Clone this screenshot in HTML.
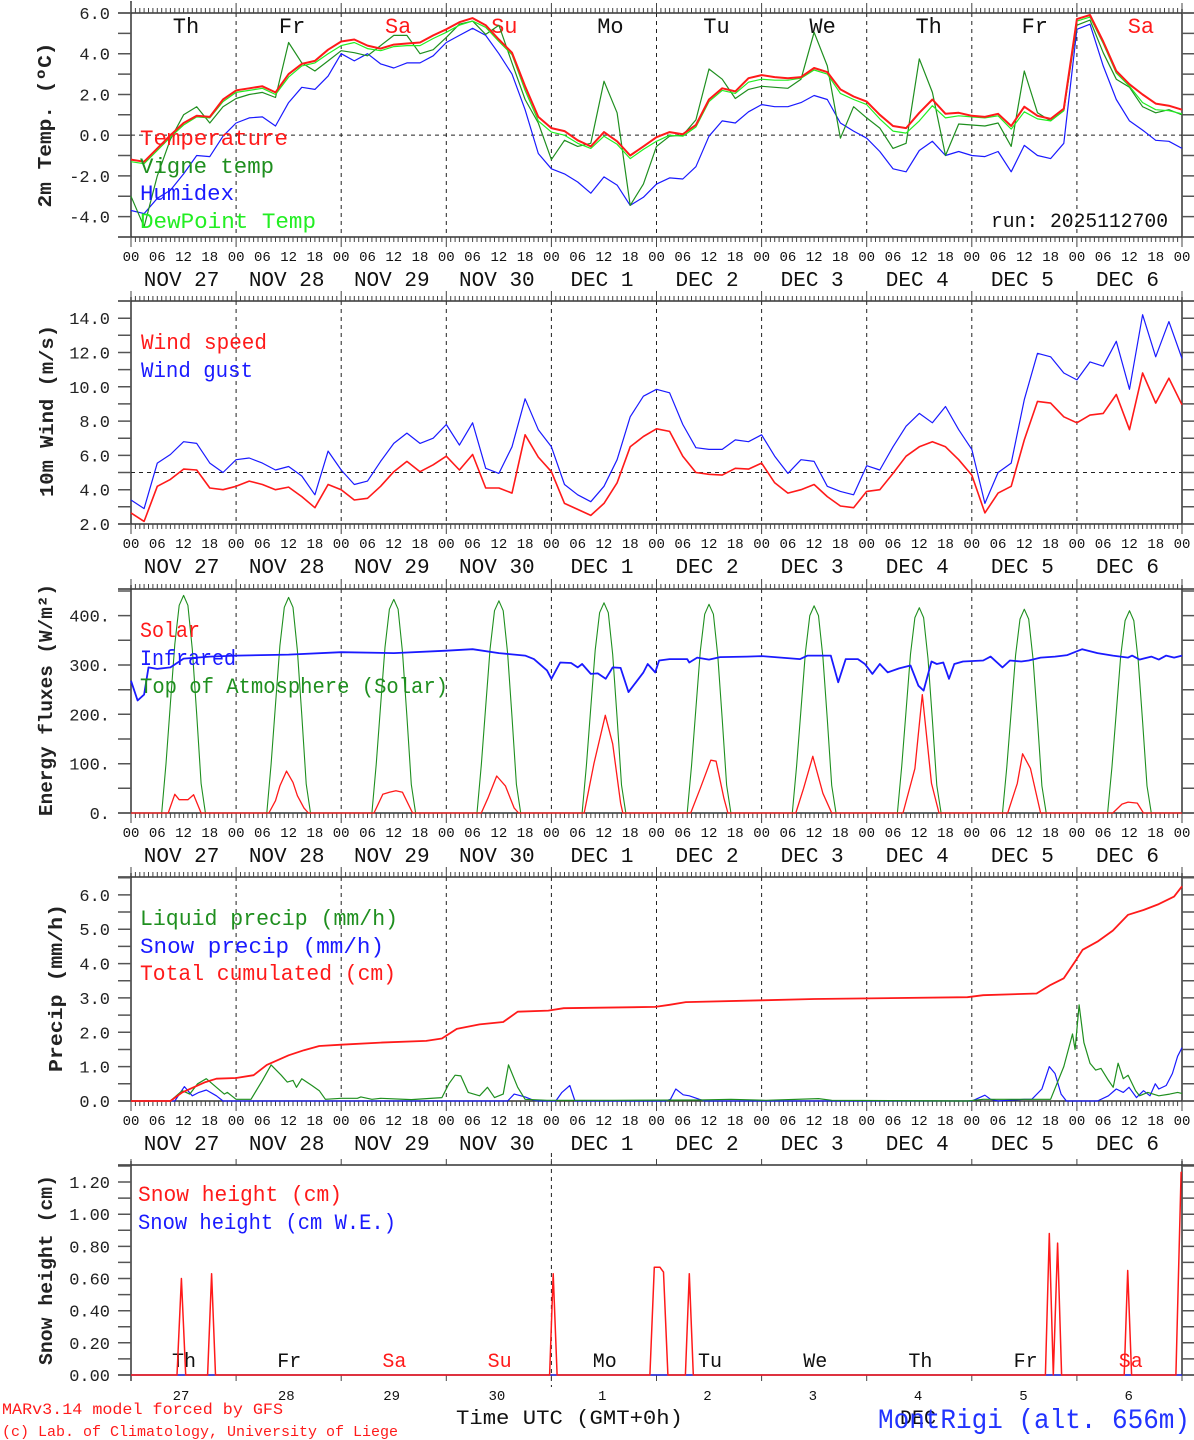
<!DOCTYPE html>
<html><head><meta charset="utf-8"><style>
html,body{margin:0;padding:0;background:#fff;}
svg{display:block;font-family:"Liberation Mono","DejaVu Sans Mono",monospace;}
</style></head><body>
<svg id="chart" width="1194" height="1440" viewBox="0 0 1194 1440" xmlns="http://www.w3.org/2000/svg">
<rect x="0" y="0" width="1194" height="1440" fill="#fff"/>
</svg>
<script>
// ---------- DATA (hours since NOV 27 00 UTC) ----------
const dayNames = ["Th","Fr","Sa","Su","Mo","Tu","We","Th","Fr","Sa"];
const dayRed = [false,false,true,true,false,false,false,false,false,true];
const dateLabels = ["NOV 27","NOV 28","NOV 29","NOV 30","DEC  1","DEC  2","DEC  3","DEC  4","DEC  5","DEC  6"];
const dayNumbers = ["27","28","29","30","1","2","3","4","5","6"];
const hourLabels = ["00","06","12","18"];

// Panel 1: temperatures, 3-hourly
const tempValues = [-1.2,-1.3,-0.65,0,0.6,0.95,0.9,1.75,2.2, 2.3,2.4,2.1,3.0,3.5,3.65,4.2,4.6, 4.7,4.4,4.25,4.45,4.5,4.55,4.9,5.2, 5.55,5.75,5.4,4.7,4.05,2.4,0.9,0.35, 0.2,-0.25,-0.55,0.15,-0.3,-1.0,-0.55,-0.1, 0.15,0.05,0.5,1.75,2.3,2.15,2.8,2.95, 2.85,2.8,2.85,3.3,3.1,2.25,1.9,1.65, 1.0,0.45,0.35,1.1,1.75,1.05,1.1,0.95, 0.9,1.05,0.45,1.4,0.95,0.8,1.3,5.7, 5.9,4.6,3.15,2.5,2.0,1.55,1.45,1.25];
const vigneValues = [-3.0,-4.5,-2.0,-0.2,1.0,1.4,0.6,1.4,1.8, 2.0,2.1,1.85,4.55,3.55,3.15,3.65,4.15, 4.05,3.9,4.4,4.9,4.9,4.0,4.2,4.8, 5.45,5.6,4.95,5.4,3.55,1.75,0.6,-1.2, -0.25,-0.55,-0.4,2.65,1.1,-3.45,-2.4,-0.55, -0.05,0,0.75,3.25,2.75,1.8,2.25,2.4, 2.35,2.3,2.75,5.05,3.4,-0.15,1.4,0.85, 0.35,-0.65,-0.4,3.75,2.1,-1.0,0.55,0.5, 0.45,0.6,-0.55,3.15,1.1,0.7,1.2,5.4, 5.65,4.05,2.75,2.35,1.4,1.1,1.25,1.0];
const humidexValues = [-3.7,-3.85,-3.1,-2.7,-1.9,-1.0,-1.05,-0.05,0.6, 0.85,0.9,0.45,1.6,2.35,2.25,2.9,4.0, 3.65,4.0,3.5,3.3,3.55,3.55,3.9,4.55, 4.9,5.25,4.9,4.0,3.0,1.25,-0.9,-1.65, -1.9,-2.3,-2.85,-2.05,-2.45,-3.45,-3.05,-2.4, -2.1,-2.15,-1.55,-0.05,0.7,0.6,1.15,1.5, 1.4,1.4,1.6,1.95,1.75,0.6,0.2,-0.15, -0.8,-1.65,-1.8,-0.75,-0.3,-1.0,-0.8,-1.0, -1.05,-0.8,-1.8,-0.5,-1.0,-1.15,-0.4,5.2, 5.45,3.4,1.75,0.7,0.25,-0.25,-0.3,-0.65];
const dewValues = [-1.3,-1.4,-0.75,-0.1,0.5,0.9,0.85,1.65,2.1, 2.2,2.3,2.0,2.85,3.4,3.55,4.0,4.4, 4.55,4.25,4.15,4.35,4.4,4.4,4.75,5.05, 5.4,5.6,5.3,4.6,3.95,2.2,0.7,0.15, 0,-0.4,-0.65,-0.05,-0.45,-1.15,-0.7,-0.3, 0,-0.05,0.4,1.65,2.2,2.05,2.6,2.75, 2.7,2.7,2.8,3.2,3.0,2.05,1.75,1.5, 0.8,0.2,0.1,0.7,1.45,0.85,0.95,0.9, 0.85,0.95,0.3,1.15,0.8,0.7,1.2,5.6, 5.8,4.5,3.05,2.4,1.6,1.25,1.2,1.05];

// Panel 2: wind, 3-hourly
const windSpeed = [2.65,2.15,4.2,4.6,5.2,5.15,4.1,4.0,4.2, 4.5,4.3,4.0,4.15,3.6,2.95,4.3,4.0, 3.4,3.5,4.2,5.05,5.65,5.05,5.45,5.95, 5.15,6.05,4.1,4.1,3.8,7.2,5.9,5.05, 3.2,2.85,2.5,3.2,4.4,6.5,7.1,7.55, 7.4,5.95,5.0,4.9,4.85,5.25,5.2,5.55, 4.4,3.8,4.0,4.3,3.6,3.05,2.95,3.9, 4.0,4.95,5.95,6.5,6.8,6.5,5.75,4.85, 2.65,3.8,4.2,6.9,9.15,9.05,8.25,7.9, 8.35,8.45,9.55,7.5,10.8,9.05,10.5,8.95];
const windGust = [3.4,2.9,5.55,6.05,6.8,6.7,5.55,5.0,5.75, 5.85,5.55,5.15,5.35,4.8,3.7,6.25,5.15, 4.3,4.5,5.65,6.7,7.3,6.7,7.0,7.8, 6.6,7.9,5.25,4.95,6.5,9.3,7.5,6.5, 4.3,3.7,3.3,4.2,5.75,8.25,9.45,9.85, 9.65,7.8,6.45,6.35,6.35,6.9,6.8,7.2, 5.95,4.95,5.75,5.65,4.2,3.9,3.7,5.4, 5.15,6.5,7.7,8.45,7.9,8.85,7.5,6.35, 3.2,5.0,5.55,9.25,11.95,11.75,10.8,10.4, 11.45,11.2,12.65,9.85,14.2,11.75,13.8,11.65];

// Panel 3: energy fluxes
const toaDayValues = [
 [0,100,222,342,421,441,421,332,200,60,0],
 [0,99,220,339,417,437,417,329,198,59,0],
 [0,98,218,336,413,433,413,326,196,58,0],
 [0,97,216,333,410,430,410,324,195,58,0],
 [0,96,214,330,406,426,406,321,193,57,0],
 [0,95,212,328,403,423,403,318,191,57,0],
 [0,95,210,325,400,420,400,316,190,56,0],
 [0,94,208,322,396,416,396,313,188,56,0],
 [0,93,206,320,393,413,393,311,187,55,0],
 [0,92,205,318,390,410,390,309,185,55,0]];
const toaStartHour = [7,31,55,79,103,127,151,175,199,223];
const solarHours = [0,8.5,10,11,13,14.3,16, 31.5,33,34,35.5,37,38,39.5,40.5, 55.5,57.5,59,60.5,62,64.3, 80,81.5,83.5,85.5,87.5,88.5, 103.5,105.7,108.3,110,111.8,112.3, 127.8,130,132.4,133.6,135.4,136.3, 151.8,153.6,155.7,158,160, 176.3,179,180.7,182.8,184.5, 200.2,202.4,203.6,205.4,207.7, 224.2,226.3,227.7,229.8,231.2,240];
const solarValues = [0,0,38,27,27,37,0, 0,25,55,85,62,35,10,0, 0,38,42,45,42,0, 0,30,75,55,10,0, 0,100,198,140,20,0, 0,50,107,105,30,0, 0,50,115,40,0, 0,90,240,60,0, 0,60,120,90,0, 0,18,22,20,0,0];
const irHours = [0,1.5,3,4,6,9,12,18,24,36,48,60,72,78,84,90,92,95,96,98,100.5,102,103,105,106.6,108.4,110,111.8,113.6,115.3,117,118,119.7,120.6,123,127,127.5,129.3,132,134.5,140.6,144,152.8,154.5,159.8,161.5,163.2,166,167.6,169.3,171,172.8,175.4,178,179.8,181,182.8,184,185.5,186.8,188,190,194.6,196.3,199,200.7,203.3,205,207.7,211,213.8,217.2,220.7,224.2,227.7,228.6,230.3,233,234.7,236.4,238.2,240];
const irValues = [268,228,240,295,292,295,313,317,319,321,326,324,329,332,324,319,312,289,272,305,304,295,302,282,283,272,295,294,245,265,285,302,285,309,312,312,305,315,311,316,317,318,312,319,319,265,312,312,302,282,302,285,293,299,258,248,307,302,305,272,302,307,309,317,295,309,307,309,315,317,320,332,324,319,315,319,311,317,311,319,315,319];

// Panel 4: precipitation
const cumHours = [0,9,11.7,14.3,17,19.5,24,28,31,36,39.5,43,48,57,67.4,71,74.4,79.6,85,88.3,95.3,98.8,119.7,123,126.7,144,156,191,194.6,206.8,210,213,215.6,217.3,220.7,224.2,227.7,231.2,234.7,238.2,240];
const cumValues = [0,0,0.25,0.4,0.55,0.65,0.67,0.75,1.05,1.33,1.48,1.6,1.64,1.7,1.75,1.82,2.1,2.23,2.3,2.6,2.63,2.7,2.74,2.8,2.88,2.93,2.97,3.02,3.08,3.13,3.38,3.57,4.06,4.4,4.64,4.96,5.42,5.56,5.73,5.95,6.25];
const liquidHours = [0,9,11.7,13.4,15.2,17.2,19.5,21.3,22,24,27.4,30,32,34.3,35.7,37,37.8,39,41.3,43,44.4,48,51.7,52.5,55,57,64,71,72.6,74,75.3,77,79.6,81.4,83,85,86.2,88.3,90,95,110,130,137,145,157,160,191,194.6,210,213,215,215.6,216.5,217.6,219,220.3,221.5,223.2,224.3,225.4,226.6,227.7,229.4,230.3,232.2,234.7,237.2,239,240];
const liquidValues = [0,0,0.3,0.2,0.5,0.65,0.4,0.2,0.25,0.05,0.05,0.6,1.05,0.75,0.55,0.6,0.4,0.65,0.45,0.3,0.05,0.08,0.08,0.12,0.05,0.08,0.04,0.1,0.5,0.75,0.73,0.25,0.15,0.4,0.1,0.2,1.05,0.4,0.05,0.02,0.02,0.03,0.05,0.02,0.07,0.02,0,0.05,0.05,1.0,1.95,1.5,2.8,1.7,1.1,0.9,0.95,0.6,0.4,1.1,0.65,0.75,0.3,0.15,0.25,0.15,0.2,0.25,0.22];
const snowPrecipHours = [0,10,12.2,14,15.5,17.2,19.5,21,86,87.5,90,91.8,93,97,98.4,100.2,101.4,122,123.2,124.4,126.1,127.5,129.8,131,192,192.9,195,196.3,198,204,205.7,208,209.7,211,212.4,213.6,220.7,223.2,225,226.6,227.9,229.6,231.2,232.7,233.9,234.7,236.4,237.8,239,240];
const snowPrecipValues = [0,0,0.42,0.15,0.25,0.32,0.15,0,0,0.2,0.12,0.03,0,0,0.25,0.45,0,0,0.05,0.35,0.18,0.15,0.05,0,0,0.05,0.17,0.05,0,0.05,0.05,0.35,1.0,0.8,0.2,0,0,0.15,0.35,0.25,0.4,0.1,0.3,0.15,0.5,0.35,0.45,0.8,1.3,1.55];

// Panel 5: snow height
const snowHours = [0,10.5,11.5,12.5,17.5,18.4,19.3,95.6,96.4,97.3,118.5,119.5,120.8,121.6,122.6,126.6,127.5,128.4,208.8,209.7,210.6,211.6,212.5,226.8,227.6,228.5,238.6,239.8,240];
const snowValues = [0,0,0.60,0,0,0.63,0,0,0.63,0,0,0.67,0.67,0.64,0,0,0.63,0,0,0.88,0,0.82,0,0,0.65,0,0,1.26,1.26];
const snowWEValues = [0,0];
const snowWEHours = [0,240];

// y-axis ticks
const p1Ticks = ["6.0","4.0","2.0","0.0","-2.0","-4.0"];
const p2Ticks = ["14.0","12.0","10.0","8.0","6.0","4.0","2.0"];
const p3Ticks = ["400.","300.","200.","100.","0."];
const p4Ticks = ["6.0","5.0","4.0","3.0","2.0","1.0","0.0"];
const p5Ticks = ["1.20","1.00","0.80","0.60","0.40","0.20","0.00"];

// ---------- DRAWING ----------
const NS = "http://www.w3.org/2000/svg";
const svg = document.getElementById("chart");
const X0 = 131, X1 = 1182, HOURS = 240;
const RED = "#ff1a1a", GREEN = "#1f8f1f", LIME = "#22ee22", BLUE = "#1a1aff";
function xs(h){ return X0 + h * (X1 - X0) / HOURS; }
function mk(tag, attrs, parent){
  const e = document.createElementNS(NS, tag);
  for (const k in attrs) e.setAttribute(k, attrs[k]);
  (parent || svg).appendChild(e);
  return e;
}
function txt(s, x, y, size, fill, anchor, extra){
  const e = mk("text", Object.assign({x:x, y:y, "font-size":size, fill:fill, "text-anchor":anchor||"start"}, extra||{}));
  e.textContent = s;
  return e;
}
function yScale(p){ return v => p.bottom - (v - p.min) * (p.bottom - p.top) / (p.max - p.min); }

const panels = [
  {top:13, bottom:237, min:-5, max:6},
  {top:301, bottom:524, min:2, max:15},
  {top:589, bottom:813, min:0, max:454},
  {top:877, bottom:1101, min:0, max:6.52},
  {top:1165, bottom:1375, min:0, max:1.306}
];

function series(hours, values, p, color, width, name){
  const ys = yScale(p);
  const pts = hours.map((h,i)=> xs(h).toFixed(1)+","+ys(values[i]).toFixed(1)).join(" ");
  const e = mk("polyline", {points:pts, fill:"none", stroke:color, "stroke-width":width, "stroke-linejoin":"round"});
  
  
  return e;
}

function frame(p, idx, tickStep, tickLabels, labelStep, hourly){
  const ys = yScale(p);
  const g = mk("g", {});
  
  
  for (let d=1; d<10; d++){
    if (!hourly && d!==4) continue;
    const ln = mk("line", {x1:xs(d*24), x2:xs(d*24), y1:hourly?p.top:p.top-12, y2:hourly?p.bottom:p.bottom+12, stroke:"#222", "stroke-width":1, "stroke-dasharray":"4,4"}, g);
    
    
  }
  const b1 = mk("line", {x1:118, x2:1194, y1:p.top, y2:p.top, stroke:"#333", "stroke-width":1.5}, g);
   
  const b2 = mk("line", {x1:118, x2:1194, y1:p.bottom, y2:p.bottom, stroke:"#333", "stroke-width":1.5}, g);
   
  const b3 = mk("line", {x1:X0, x2:X0, y1:p.top-(idx===0?12:4), y2:p.bottom+(idx===4?6:0), stroke:"#333", "stroke-width":1.5}, g);
   
  const b4 = mk("line", {x1:X1, x2:X1, y1:p.top-4, y2:p.bottom, stroke:"#333", "stroke-width":1.5}, g);
   
  let d = "";
  if (hourly){
    for (let h=0; h<=HOURS; h++){
      const x = xs(h).toFixed(1), L = (h%24===0)?10:5;
      d += `M${x},${p.top}v${-L}M${x},${p.bottom}v${L}`;
    }
  } else {
    for (let h=0; h<=HOURS; h+=24){
      const x = xs(h).toFixed(1);
      d += `M${x},${p.top}v-6M${x},${p.bottom}v6`;
    }
  }
  const xt = mk("path", {d:d, stroke:"#444", "stroke-width":1, fill:"none"}, g);
   
  let yd = "";
  for (let v=p.min; v<=p.max+1e-9; v+=tickStep){
    const y = ys(v).toFixed(1);
    yd += `M118,${y}H${X0}M${X1},${y}H1194`;
  }
  const yt = mk("path", {d:yd, stroke:"#555", "stroke-width":1.5, fill:"none"}, g);
   
  tickLabels.forEach((s)=>{
    const v = parseFloat(s);
    const t = txt(s, 110, ys(v)+6, 17, "#222", "end");
    
    
  });
}

function hourRow(p){
  for (let d=0; d<=10; d++){
    for (let k=0; k<4; k++){
      if (d===10 && k>0) break;
      const t = txt(hourLabels[k], xs(d*24+k*6), p.bottom+24, 14, "#111", "middle");
      
      
    }
  }
  for (let d=0; d<10; d++){
    const t = txt(dateLabels[d], xs(d*24+12)-2, p.bottom+49, 21, "#111", "middle", {"xml:space":"preserve"});
    
    
  }
}

function yTitle(s, x, yc, len){
  const t = txt(s, 0, 0, 19, "#222", "middle", {transform:`translate(${x},${yc}) rotate(-90)`, textLength:len, lengthAdjust:"spacingAndGlyphs", "font-weight":"bold"});
  
  
}
function legend(s, x, y, color, len){
  const t = txt(s, x, y, 22, color, "start", {textLength:len, lengthAdjust:"spacingAndGlyphs"});
  
  
}

const hours3 = tempValues.map((_,i)=> i*3);

// ---- Panel 1
const P1 = panels[0];
frame(P1, 0, 1, p1Ticks, 2, true);
{ const ys = yScale(P1); const z = mk("line", {x1:X0, x2:X1, y1:ys(0), y2:ys(0), stroke:"#222", "stroke-dasharray":"4,4"});
    }
for (let d=0; d<10; d++){
  const t = txt(dayNames[d], 186 + d*106.1, 33, 22, dayRed[d]?RED:"#111", "middle");
  
  
}
series(hours3, humidexValues, P1, BLUE, 1.2, 'humidex-line');
series(hours3, vigneValues, P1, GREEN, 1.2, 'vigne-temp-line');
series(hours3, dewValues, P1, LIME, 1.2, 'dewpoint-line');
series(hours3, tempValues, P1, RED, 2, 'temperature-line');
legend("Temperature", 140, 145, RED, 148);
legend("Vigne temp", 140, 173, GREEN, 134);
legend("Humidex", 140, 200, BLUE, 94);
legend("DewPoint Temp", 140, 228, LIME, 176);
{ const t = txt("run: 2025112700", 991, 227, 20, "#111", "start", {textLength:177, lengthAdjust:"spacingAndGlyphs"});
    }
hourRow(P1);
yTitle("2m Temp. (\u00BAC)", 51, 125, 165);

// ---- Panel 2
const P2 = panels[1];
frame(P2, 1, 1, p2Ticks, 2, true);
{ const ys = yScale(P2); const z = mk("line", {x1:X0, x2:X1, y1:ys(5), y2:ys(5), stroke:"#222", "stroke-dasharray":"4,4"});
    }
series(hours3, windGust, P2, BLUE, 1.2, 'wind-gust-line');
series(hours3, windSpeed, P2, RED, 1.6, 'wind-speed-line');
legend("Wind speed", 141, 349, RED, 126);
legend("Wind gust", 141, 377, BLUE, 112);
hourRow(P2);
yTitle("10m Wind (m/s)", 53, 411, 172);

// ---- Panel 3
const P3 = panels[2];
frame(P3, 2, 50, p3Ticks, 100, true);
{
  const toaH = [0], toaV = [0];
  toaDayValues.forEach((arr, d)=>{ arr.forEach((v,k)=>{ toaH.push(toaStartHour[d]+k); toaV.push(v); }); });
  toaH.push(240); toaV.push(0);
  series(toaH, toaV, P3, GREEN, 1.1, 'toa-solar-line');
}
series(solarHours, solarValues, P3, RED, 1.3, 'solar-line');
series(irHours, irValues, P3, BLUE, 1.8, 'infrared-line');
legend("Solar", 140, 637, RED, 60);
legend("Infrared", 140, 665, BLUE, 96);
legend("Top of Atmosphere (Solar)", 140, 693, GREEN, 308);
hourRow(P3);
yTitle("Energy fluxes (W/m\u00B2)", 52, 700, 232);

// ---- Panel 4
const P4 = panels[3];
frame(P4, 3, 0.5, p4Ticks, 1, true);
series(snowPrecipHours, snowPrecipValues, P4, BLUE, 1.2, 'snow-precip-line');
series(liquidHours, liquidValues, P4, GREEN, 1.2, 'liquid-precip-line');
series(cumHours, cumValues, P4, RED, 1.8, 'total-cumulated-line');
legend("Liquid precip (mm/h)", 140, 925, GREEN, 258);
legend("Snow precip (mm/h)", 140, 953, BLUE, 244);
legend("Total cumulated (cm)", 140, 980, RED, 256);
hourRow(P4);
yTitle("Precip (mm/h)", 62, 988, 168);

// ---- Panel 5
const P5 = panels[4];
frame(P5, 4, 0.1, p5Ticks, 0.2, false);
for (let d=0; d<10; d++){
  const t = txt(dayNames[d], 184 + d*105.2, 1367, 20, dayRed[d]?RED:"#111", "middle");
  
  
  const n = txt(dayNumbers[d], 181 + d*105.3, 1400, 14, "#111", "middle");
  
  
}
series(snowWEHours, snowWEValues, P5, BLUE, 1.2, 'snow-height-we-line');
series(snowHours, snowValues, P5, RED, 1.5, 'snow-height-line');
legend("Snow height (cm)", 138, 1201, RED, 204);
legend("Snow height (cm W.E.)", 138, 1229, BLUE, 258);
yTitle("Snow height (cm)", 52, 1270, 190);

// footer
{ let t = txt("MARv3.14 model forced by GFS", 2, 1414, 16, RED, "start", {textLength:281, lengthAdjust:"spacingAndGlyphs"});
   
  t = txt("(c) Lab. of Climatology, University of Liege", 2, 1436, 15, RED, "start", {textLength:396, lengthAdjust:"spacingAndGlyphs"});
   
  t = txt("Time UTC (GMT+0h)", 456, 1424, 20, "#111", "start", {textLength:227, lengthAdjust:"spacingAndGlyphs"});
   
  t = txt("DEC", 900, 1424, 20, "#111", "start");
   
  t = txt("MontRigi (alt. 656m)", 878, 1428, 28, "#2233ff", "start", {textLength:312, lengthAdjust:"spacingAndGlyphs"});
   
}
</script>
</body></html>
